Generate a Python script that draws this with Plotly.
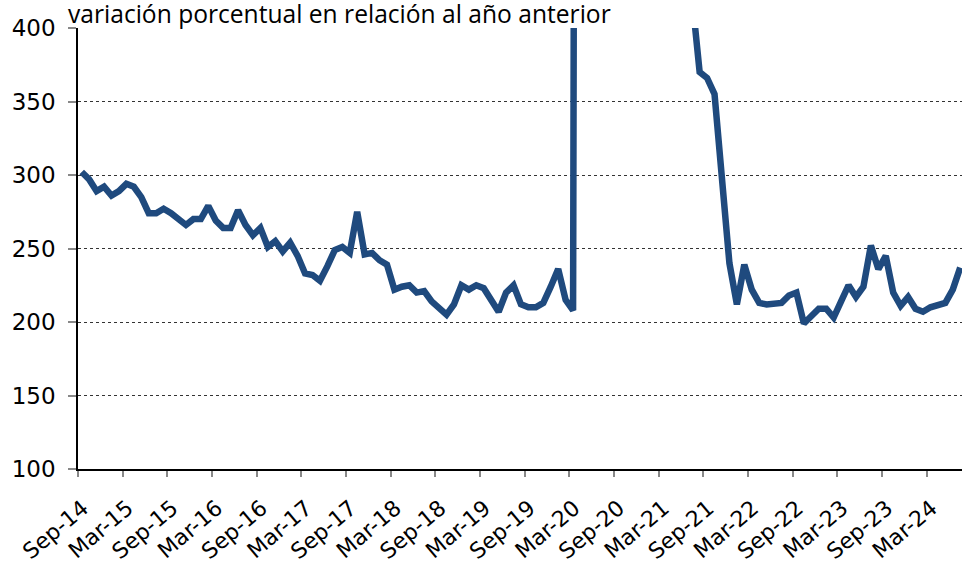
import plotly.graph_objects as go

# Monthly series, Sep-14 .. Jul-24 (index 0 = Sep-14)
values = [
    302, 297, 289, 292, 286, 289, 294, 292, 285, 274,
    274, 277, 274, 270, 266, 270, 270, 279, 269, 264,
    264, 276, 266, 259, 264, 251, 255, 248, 254, 245,
    233, 232, 228, 238, 249, 251, 247, 275, 246, 247,
    242, 239, 222, 224, 225, 220, 221, 214, 209, 205,
    212, 225, 222, 225, 223, 215, 207, 220, 225, 212,
    210, 210, 213, 224, 236, 215, 208,
    # Apr-20 .. Jun-21: far above the visible range
    2450, 3200, 3800, 4300, 4700, 5100, 5400, 5200, 4800, 4200,
    3600, 2900, 2300, 1700, 1100,
    # Jul-21 ..
    420, 370, 366, 355, 295, 240, 212, 239, 222, 213,
    212, 213, 213, 218, 220, 199, 204, 209, 209, 203,
    214, 225, 217, 224, 252, 236, 245, 220, 211, 217,
    209, 207, 210, 212, 213, 222, 237,
]

tick_labels = ["Sep-14", "Mar-15", "Sep-15", "Mar-16", "Sep-16", "Mar-17",
               "Sep-17", "Mar-18", "Sep-18", "Mar-19", "Sep-19", "Mar-20",
               "Sep-20", "Mar-21", "Sep-21", "Mar-22", "Sep-22", "Mar-23",
               "Sep-23", "Mar-24"]
tick_step = 6  # months between labelled ticks

y_ticks = [100, 150, 200, 250, 300, 350, 400]
title_text = "variación porcentual en relación al año anterior"

x_idx = list(range(len(values)))
tick_pos = [k * tick_step - 0.5 for k in range(len(tick_labels))]

fig = go.Figure()
fig.add_trace(go.Scatter(
    x=x_idx, y=values, mode="lines",
    line=dict(color="#1F4A7E", width=6.5),
    hoverinfo="y",
))

fig.update_layout(
    width=962, height=563,
    margin=dict(l=78, r=0, t=28, b=94, autoexpand=False),
    paper_bgcolor="white", plot_bgcolor="white",
    showlegend=False,
    font=dict(family="DejaVu Sans, Liberation Sans, sans-serif", color="black"),
)

fig.update_xaxes(
    range=[-0.5, 118.24], automargin=False,
    tickmode="array", tickvals=tick_pos, ticktext=tick_labels,
    tickangle=-40, tickfont=dict(size=22, color="black"),
    ticklabelshift=5, ticklabelstandoff=10,
    ticks="outside", ticklen=6, tickcolor="#888888", tickwidth=1.5,
    showline=True, linecolor="black", linewidth=1.5,
    showgrid=False, zeroline=False,
)

fig.update_yaxes(
    range=[100, 400], automargin=False,
    tickmode="array", tickvals=y_ticks,
    tickfont=dict(size=23, color="black"),
    ticks="outside", ticklen=8, tickcolor="#888888", tickwidth=1.5,
    ticklabelstandoff=8,
    showline=True, linecolor="black", linewidth=1.5,
    showgrid=True, gridcolor="#333333", gridwidth=1, griddash="dot",
    zeroline=False,
)

fig.add_annotation(
    text=title_text, xref="paper", yref="paper",
    x=-12 / 884, y=1.0, xanchor="left", yanchor="bottom", yshift=-4,
    showarrow=False,
    font=dict(family="Open Sans, sans-serif", size=24.6, color="black"),
)

fig.write_html("out.html",
               config={"displayModeBar": False},
               post_script="document.body.style.margin='0';")
